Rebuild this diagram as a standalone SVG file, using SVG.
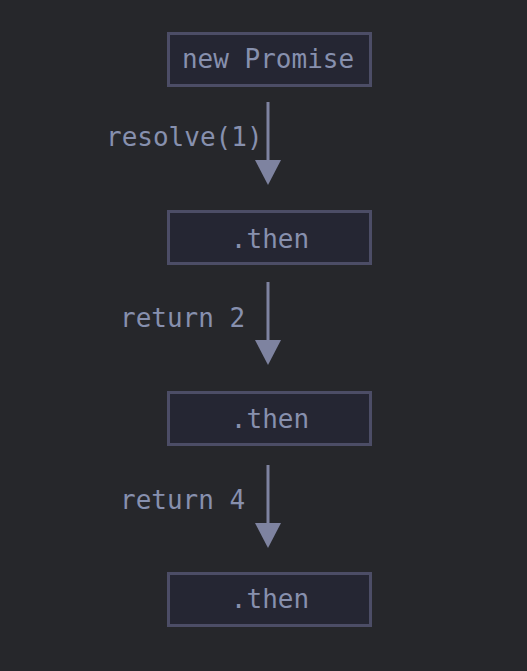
<svg xmlns="http://www.w3.org/2000/svg" width="527" height="671" viewBox="0 0 527 671">
<style>
.box{fill:#252633;stroke:#4c4d66;stroke-width:3}
.t{font-family:"DejaVu Sans Mono","Liberation Mono",monospace;font-size:26px;fill:#8790ae}
.c{stroke:#7e83a0;stroke-width:3;fill:none}
.h{fill:#7e83a0}
</style>
<rect width="527" height="671" fill="#26272b"/>
<g id="connectors">
<line class="c" x1="268" y1="102" x2="268" y2="162"/>
<polygon class="h" points="255,160 281,160 268,185"/>
<line class="c" x1="268" y1="282" x2="268" y2="342"/>
<polygon class="h" points="255,340 281,340 268,365"/>
<line class="c" x1="268" y1="465" x2="268" y2="525"/>
<polygon class="h" points="255,523 281,523 268,548"/>
<text class="t" x="106" y="146">resolve(1)</text>
<text class="t" x="120" y="327">return 2</text>
<text class="t" x="120" y="509">return 4</text>
</g>
<g id="n1"><rect class="box" x="168.5" y="33.5" width="202" height="52"/><text class="t" x="268" y="68" text-anchor="middle">new Promise</text></g>
<g id="n2"><rect class="box" x="168.5" y="211.5" width="202" height="52"/><text class="t" x="270" y="248" text-anchor="middle">.then</text></g>
<g id="n3"><rect class="box" x="168.5" y="392.5" width="202" height="52"/><text class="t" x="270" y="428" text-anchor="middle">.then</text></g>
<g id="n4"><rect class="box" x="168.5" y="573.5" width="202" height="52"/><text class="t" x="270" y="608" text-anchor="middle">.then</text></g>
</svg>
